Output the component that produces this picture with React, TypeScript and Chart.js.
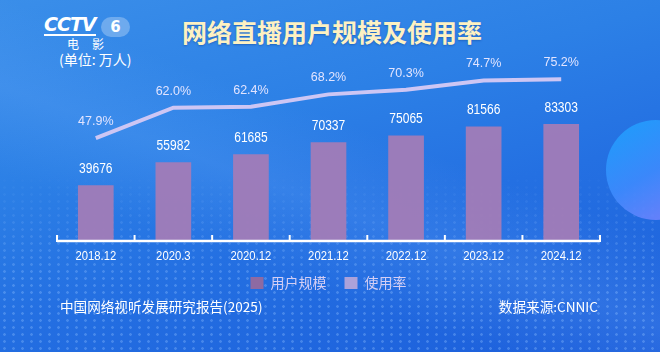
import React, { useEffect, useRef } from "react";
import { Chart, registerables } from "chart.js";

Chart.register(...registerables);

const categories = ["2018.12", "2020.3", "2020.12", "2021.12", "2022.12", "2023.12", "2024.12"];
const userScale = [39676, 55982, 61685, 70337, 75065, 81566, 83303];
const usageRate = [47.9, 62.0, 62.4, 68.2, 70.3, 74.7, 75.2];
const seriesNames = ["用户规模", "使用率"];

const BAR_COLOR = "rgba(160,124,184,0.96)";
const BAR_LEGEND = "#8e6aa2";
const LINE_COLOR = "#cdc6f4";
const LINE_LEGEND = "#aca2da";
const NUM_FONT = '"Liberation Sans", Arial, sans-serif';
const CJK_FONT = '"Noto Sans CJK SC", "Noto Sans", sans-serif';

function condensedText(ctx: any, text: string, x: number, y: number, sx: number) {
  ctx.save();
  ctx.translate(x, y);
  ctx.scale(sx, 1);
  ctx.fillText(text, 0, 0);
  ctx.restore();
}

const axisAndLabels = {
  id: "axisAndLabels",
  afterDatasetsDraw(chart: any) {
    const { ctx, chartArea } = chart;
    const { left, right, bottom } = chartArea;
    ctx.save();
    ctx.strokeStyle = "#ffffff";
    ctx.lineWidth = 2.5;
    ctx.beginPath();
    ctx.moveTo(left, bottom);
    ctx.lineTo(right, bottom);
    ctx.stroke();
    const n = chart.data.labels.length;
    const w = (right - left) / n;
    ctx.lineWidth = 2;
    for (let i = 0; i <= n; i++) {
      const x = left + i * w;
      ctx.beginPath();
      ctx.moveTo(x, bottom + 1);
      ctx.lineTo(x, bottom - 6);
      ctx.stroke();
    }
    ctx.textAlign = "center";
    ctx.textBaseline = "middle";
    // category labels
    const xScale = chart.scales.x;
    ctx.fillStyle = "#ffffff";
    ctx.font = `12px ${NUM_FONT}`;
    chart.data.labels.forEach((lab: string, i: number) => {
      condensedText(ctx, lab, xScale.getPixelForValue(i), bottom + 16, 0.94);
    });
    // bar value labels
    ctx.font = `14px ${NUM_FONT}`;
    const barMeta = chart.getDatasetMeta(0);
    barMeta.data.forEach((el: any, i: number) => {
      condensedText(ctx, String(chart.data.datasets[0].data[i]), el.x, el.y - 16, 0.86);
    });
    // rate labels
    ctx.fillStyle = "#e2e4ff";
    ctx.font = `12.5px ${NUM_FONT}`;
    const lineMeta = chart.getDatasetMeta(1);
    lineMeta.data.forEach((el: any, i: number) => {
      const v = chart.data.datasets[1].data[i] as number;
      ctx.fillText(v.toFixed(1) + "%", el.x, el.y - 16.5);
    });
    ctx.restore();
  },
};

function ChartCanvas() {
  const ref = useRef<HTMLCanvasElement | null>(null);
  useEffect(() => {
    if (!ref.current) return;
    const chart = new Chart(ref.current, {
      type: "bar",
      data: {
        labels: categories,
        datasets: [
          {
            type: "bar",
            label: seriesNames[0],
            data: userScale,
            backgroundColor: BAR_COLOR,
            borderWidth: 0,
            yAxisID: "y",
            barPercentage: 0.92,
            categoryPercentage: 0.5,
            order: 2,
          } as any,
          {
            type: "line",
            label: seriesNames[1],
            data: usageRate,
            borderColor: LINE_COLOR,
            backgroundColor: LINE_LEGEND,
            borderWidth: 4,
            pointRadius: 0,
            tension: 0,
            yAxisID: "y1",
            order: 1,
          } as any,
        ],
      },
      options: {
        animation: false,
        responsive: false,
        devicePixelRatio: 1,
        layout: { padding: { left: 57, right: 60, top: 26, bottom: 52 } },
        scales: {
          x: {
            grid: { display: false, drawTicks: false },
            border: { display: false },
            ticks: { display: false },
            afterFit: (scale: any) => {
              scale.height = 17;
            },
          },
          y: { display: false, min: 0, max: 153000 },
          y1: { display: false, min: 0, max: 100, position: "right" },
        },
        plugins: {
          tooltip: { enabled: false },
          legend: {
            position: "bottom",
            labels: {
              color: "#d4cef4",
              font: { family: CJK_FONT, size: 14 },
              boxWidth: 13,
              boxHeight: 12,
              padding: 18,
              sort: (a: any, b: any) => a.datasetIndex - b.datasetIndex,
              generateLabels: (c: any) =>
                (Chart.defaults.plugins.legend.labels.generateLabels as any)(c).map((l: any) => ({
                  ...l,
                  fillStyle: l.datasetIndex === 0 ? BAR_LEGEND : LINE_LEGEND,
                  strokeStyle: "transparent",
                  lineWidth: 0,
                })),
            },
          },
        },
      },
      plugins: [axisAndLabels],
    });
    return () => chart.destroy();
  }, []);
  return (
    <canvas
      ref={ref}
      width={660}
      height={352}
      style={{ position: "absolute", left: 0, top: 0, width: 660, height: 352, display: "block" }}
    />
  );
}

export default function App() {
  useEffect(() => {
    document.body.style.margin = "0";
  }, []);
  return (
    <div
      style={{
        position: "fixed",
        left: 0,
        top: 0,
        width: 660,
        height: 352,
        overflow: "hidden",
        background: "linear-gradient(165deg, #3a8ee9 0%, #2c80e6 35%, #2470e2 60%, #1c5edb 100%)",
        fontFamily: CJK_FONT,
      }}
    >
      <div
        style={{
          position: "absolute",
          left: 0,
          top: 0,
          width: 660,
          height: 352,
          background:
            "linear-gradient(200deg, rgba(255,255,255,0.0) 40%, rgba(120,180,255,0.18) 55%, rgba(255,255,255,0) 70%)",
        }}
      />
      <div
        style={{
          position: "absolute",
          left: 0,
          top: 170,
          width: 660,
          height: 182,
          backgroundImage: "radial-gradient(rgba(140,190,255,0.35) 1.3px, transparent 1.8px)",
          backgroundSize: "9px 7px",
          WebkitMaskImage: "linear-gradient(180deg, transparent 0%, #000 60%)",
          maskImage: "linear-gradient(180deg, transparent 0%, #000 60%)",
        }}
      />
      <div
        style={{
          position: "absolute",
          left: 606,
          top: 120,
          width: 100,
          height: 100,
          borderRadius: "50%",
          background: "linear-gradient(150deg, #1aa6ff 0%, #3f8cff 50%, #8a80ff 100%)",
          opacity: 0.85,
        }}
      />
      <div
        style={{
          position: "absolute",
          left: 44,
          top: 15,
          color: "#ffffff",
          fontFamily: '"DejaVu Sans", sans-serif',
          fontWeight: 700,
          fontStyle: "italic",
          fontSize: 19,
          letterSpacing: -1,
          borderBottom: "2px solid #ffffff",
          lineHeight: "18px",
          paddingBottom: 1,
        }}
      >
        CCTV
      </div>
      <div
        style={{
          position: "absolute",
          left: 101,
          top: 17,
          width: 29,
          height: 20,
          borderRadius: 10,
          background: "rgba(255,255,255,0.28)",
          color: "#ffffff",
          fontFamily: '"DejaVu Sans", sans-serif',
          fontWeight: 700,
          fontSize: 15,
          lineHeight: "20px",
          textAlign: "center",
        }}
      >
        6
      </div>
      <div style={{ position: "absolute", left: 67, top: 37, color: "#ffffff", fontSize: 12, lineHeight: "14px", letterSpacing: 13 }}>
        电影
      </div>
      <div style={{ position: "absolute", left: 59, top: 50, color: "#ffffff", fontSize: 14, lineHeight: "18px" }}>
        (单位: 万人)
      </div>
      <div
        style={{
          position: "absolute",
          left: 0,
          top: 15,
          width: 664,
          textAlign: "center",
          fontSize: 25,
          fontWeight: 700,
          lineHeight: "32px",
          color: "#fdf1c2",
          textShadow: "0 1px 2px rgba(0,40,120,0.35)",
        }}
      >
        网络直播用户规模及使用率
      </div>
      <ChartCanvas />
      <div style={{ position: "absolute", left: 60, top: 297, color: "#ffffff", fontSize: 13.6, lineHeight: "18px" }}>
        中国网络视听发展研究报告(2025)
      </div>
      <div style={{ position: "absolute", right: 62, top: 297, color: "#ffffff", fontSize: 13.6, lineHeight: "18px" }}>
        数据来源:CNNIC
      </div>
    </div>
  );
}
